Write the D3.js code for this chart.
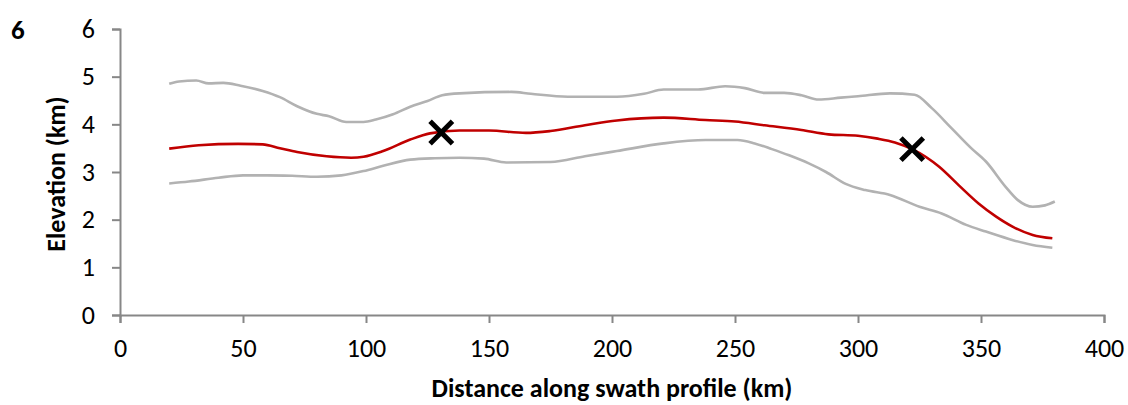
<!DOCTYPE html>
<html><head><meta charset="utf-8">
<script src="https://cdn.jsdelivr.net/npm/d3@7"></script>
<style>body{margin:0;background:#fff}svg{display:block}text{font-family:Carlito,Lato,"Open Sans",sans-serif}</style>
</head><body><svg id="c" width="1128" height="405"></svg>
<script>
const xTicks = [0,50,100,150,200,250,300,350,400];
const yTicks = [0,1,2,3,4,5,6];
const upperDist = [20,24,31,36,42,49,58,65,72,80,85,92,99,104,111,118,125,131,138,159,167,182,202,213,221,235,246,254,262,270,277,284,293,300,313,323,330,338,346,352,360,365,371,376,380];
const upperElev = [4.85,4.90,4.92,4.86,4.87,4.81,4.70,4.57,4.38,4.22,4.17,4.05,4.05,4.10,4.21,4.37,4.49,4.61,4.65,4.68,4.64,4.58,4.58,4.64,4.73,4.73,4.80,4.76,4.66,4.66,4.61,4.52,4.56,4.59,4.65,4.62,4.34,3.92,3.50,3.22,2.69,2.41,2.27,2.30,2.38];
const meanDist = [20,32,48,58,65,72,84,94,99,107,118,126,138,150,165,175,189,202,221,238,250,262,277,288,300,308,315,322,333,341,349,356,363,371,379];
const meanElev = [3.49,3.56,3.59,3.58,3.50,3.42,3.33,3.30,3.32,3.44,3.68,3.81,3.87,3.87,3.82,3.86,3.98,4.08,4.14,4.09,4.06,3.98,3.88,3.79,3.76,3.70,3.62,3.48,3.11,2.72,2.34,2.07,1.85,1.68,1.61];
const lowerDist = [20,28,40,50,60,70,80,90,99,107,118,128,138,148,157,175,189,202,221,238,251,258,265,272,280,287,295,303,313,325,334,344,352,363,371,379];
const lowerElev = [2.76,2.80,2.88,2.93,2.93,2.92,2.90,2.93,3.02,3.13,3.26,3.29,3.30,3.28,3.20,3.21,3.33,3.44,3.60,3.67,3.67,3.60,3.48,3.35,3.18,3.00,2.75,2.62,2.52,2.27,2.13,1.89,1.75,1.57,1.47,1.41];
const markerDist = [130.6, 322];
const markerElev = [3.83, 3.48];

const svg = d3.select("#c");
const x = d3.scaleLinear().domain([0,400]).range([120,1104]);
const y = d3.scaleLinear().domain([0,6]).range([315,29]);
const axisColor = "#878787";
const ff = "Carlito,Lato,'Open Sans',sans-serif";

const gx = svg.append("g").attr("transform","translate(0,315)")
  .call(d3.axisBottom(x).tickValues(xTicks).tickFormat(d3.format("d")).tickSize(8).tickSizeOuter(8).tickPadding(16));
const gy = svg.append("g").attr("transform","translate(120,0)")
  .call(d3.axisLeft(y).tickValues(yTicks).tickFormat(d3.format("d")).tickSize(8).tickSizeOuter(8).tickPadding(17));
[gx,gy].forEach(g=>{
  g.selectAll("path,line").attr("stroke",axisColor).attr("stroke-width",2);
  g.selectAll("text").attr("font-size",26).attr("fill","#000").attr("font-family",ff);
});

function series(dist, elev, color){
  const pts = dist.map((d,i)=>[d, elev[i]]);
  svg.append("path").datum(pts)
    .attr("fill","none").attr("stroke",color).attr("stroke-width",2.6)
    .attr("stroke-linejoin","round").attr("stroke-linecap","butt")
    .attr("d", d3.line().x(d=>x(d[0])).y(d=>y(d[1])).curve(d3.curveMonotoneX));
}
series(upperDist, upperElev, "#b2b2b2");
series(lowerDist, lowerElev, "#b2b2b2");
series(meanDist, meanElev, "#c00000");

const sym = d3.symbol().type(d3.symbolX).size(330);
svg.selectAll(".mk").data(markerDist.map((d,i)=>[d,markerElev[i]])).join("path")
  .attr("transform", d=>`translate(${x(d[0])},${y(d[1])})`)
  .attr("d", sym).attr("stroke","#000").attr("stroke-width",5).attr("fill","none");

svg.append("text").attr("x",612).attr("y",397).attr("text-anchor","middle")
  .style("font-size","26px").style("font-weight","bold").text("Distance along swath profile (km)");
svg.append("text").attr("transform","translate(65,174) rotate(-90)").attr("text-anchor","middle")
  .style("font-size","26px").style("font-weight","bold").text("Elevation (km)");
svg.append("text").attr("x",11).attr("y",39)
  .style("font-size","27px").style("font-weight","bold").style("font-family",ff).text("6");
</script></body></html>
